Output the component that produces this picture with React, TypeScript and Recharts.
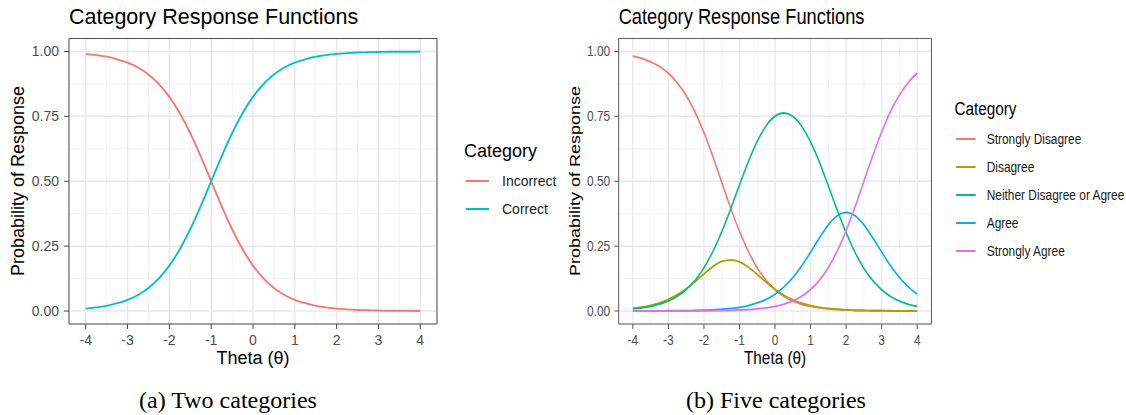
import React from 'react';
import { LineChart, Line, XAxis, YAxis, CartesianGrid, ReferenceArea } from 'recharts';

const FONT = '"Liberation Sans", Arial, Helvetica, sans-serif';

// theta grid shared by both panels
const thetas = [-4, -3.75, -3.5, -3.25, -3, -2.75, -2.5, -2.25, -2, -1.75, -1.5, -1.25, -1, -0.75, -0.5, -0.25,
    0, 0.25, 0.5, 0.75, 1, 1.25, 1.5, 1.75, 2, 2.25, 2.5, 2.75, 3, 3.25, 3.5, 3.75, 4];

// (a) two categories
const incorrect = [0.991, 0.986, 0.980, 0.970, 0.957, 0.938, 0.911, 0.874, 0.825, 0.762, 0.685, 0.596, 0.500, 0.404, 0.315, 0.238,
    0.175, 0.126, 0.089, 0.062, 0.043, 0.030, 0.020, 0.014, 0.009, 0.006, 0.004, 0.003, 0.002, 0.001, 0.001, 0.001, 0.000];
const correct = [0.009, 0.014, 0.020, 0.030, 0.043, 0.062, 0.089, 0.126, 0.175, 0.238, 0.315, 0.404, 0.500, 0.596, 0.685, 0.762,
    0.825, 0.874, 0.911, 0.938, 0.957, 0.970, 0.980, 0.986, 0.991, 0.994, 0.996, 0.997, 0.998, 0.999, 0.999, 0.999, 1.000];

// (b) five categories
const stronglyDisagree = [0.982, 0.973, 0.960, 0.942, 0.916, 0.879, 0.830, 0.766, 0.687, 0.595, 0.496, 0.397, 0.307, 0.229, 0.166, 0.118,
    0.082, 0.056, 0.039, 0.026, 0.018, 0.012, 0.008, 0.005, 0.004, 0.002, 0.002, 0.001, 0.001, 0.000, 0.000, 0.000, 0.000];
const disagree = [0.010, 0.015, 0.022, 0.031, 0.045, 0.063, 0.086, 0.113, 0.143, 0.171, 0.191, 0.197, 0.189, 0.169, 0.141, 0.111,
    0.084, 0.061, 0.043, 0.030, 0.021, 0.014, 0.010, 0.007, 0.004, 0.003, 0.002, 0.001, 0.001, 0.001, 0.000, 0.000, 0.000];
const neither = [0.008, 0.012, 0.018, 0.027, 0.039, 0.057, 0.083, 0.118, 0.167, 0.229, 0.305, 0.393, 0.486, 0.576, 0.654, 0.714,
    0.751, 0.763, 0.750, 0.712, 0.651, 0.573, 0.482, 0.389, 0.302, 0.226, 0.164, 0.117, 0.082, 0.056, 0.038, 0.026, 0.018];
const agree = [0.000, 0.000, 0.000, 0.000, 0.001, 0.001, 0.001, 0.002, 0.003, 0.004, 0.007, 0.010, 0.014, 0.021, 0.031, 0.045,
    0.065, 0.093, 0.129, 0.174, 0.227, 0.282, 0.332, 0.367, 0.380, 0.367, 0.332, 0.282, 0.227, 0.174, 0.129, 0.093, 0.065];
const stronglyAgree = [0.000, 0.000, 0.000, 0.000, 0.000, 0.000, 0.000, 0.001, 0.001, 0.001, 0.002, 0.002, 0.004, 0.005, 0.008, 0.012,
    0.018, 0.027, 0.039, 0.057, 0.083, 0.119, 0.168, 0.231, 0.310, 0.401, 0.500, 0.599, 0.690, 0.769, 0.832, 0.881, 0.917];

const xTicks = [-4, -3, -2, -1, 0, 1, 2, 3, 4];
const yTicks = [0, 0.25, 0.5, 0.75, 1];
const xMinor = [-3.5, -2.5, -1.5, -0.5, 0.5, 1.5, 2.5, 3.5];
const yMinor = [0.125, 0.375, 0.625, 0.875];

interface ISeries {
    key: string;
    name: string;
    color: string;
}

const twoSeries: ISeries[] = [
    { key: 'incorrect', name: 'Incorrect', color: '#F8766D' },
    { key: 'correct', name: 'Correct', color: '#00BFC4' },
];

const fiveSeries: ISeries[] = [
    { key: 'sd', name: 'Strongly Disagree', color: '#F8766D' },
    { key: 'd', name: 'Disagree', color: '#A3A500' },
    { key: 'n', name: 'Neither Disagree or Agree', color: '#00BF7D' },
    { key: 'a', name: 'Agree', color: '#00B0F6' },
    { key: 'sa', name: 'Strongly Agree', color: '#E76BF3' },
];

const twoData = thetas.map((t, i) => ({ theta: t, incorrect: incorrect[i], correct: correct[i] }));
const fiveData = thetas.map((t, i) => ({
    theta: t,
    sd: stronglyDisagree[i],
    d: disagree[i],
    n: neither[i],
    a: agree[i],
    sa: stronglyAgree[i],
}));

interface IProps {
    data: any[];
    series: ISeries[];
    width: number;
    legendTop: number;
}

const CrfChart = ({ data, series, width, legendTop }: IProps) => {
    const tickStyle = { fill: '#4D4D4D', fontSize: 14, fontFamily: FONT };
    return (
        <div style={{ position: 'relative', width, height: 415, fontFamily: FONT }}>
            <LineChart width={width} height={415} data={data}
                margin={{ top: 38.5, right: width - 437, bottom: 61, left: 19 }}>
                <CartesianGrid stroke="#EFEFEF" strokeWidth={0.8} verticalValues={xMinor} horizontalValues={yMinor} />
                <CartesianGrid stroke="#E8E8E8" strokeWidth={1.5} />
                <XAxis dataKey="theta" type="number" domain={[-4.4, 4.4]} ticks={xTicks} interval={0}
                    axisLine={false} tickLine={{ stroke: '#444' }} tickSize={5} tickMargin={6} height={30}
                    tick={tickStyle} />
                <YAxis type="number" domain={[-0.05, 1.05]} ticks={yTicks} interval={0}
                    tickFormatter={(v: number) => v.toFixed(2)}
                    axisLine={false} tickLine={{ stroke: '#444' }} tickSize={5} tickMargin={5} width={50}
                    tick={tickStyle} />
                {series.map(s => (
                    <Line key={s.key} type="monotone" dataKey={s.key} name={s.name} stroke={s.color}
                        strokeWidth={1.8} dot={false} isAnimationActive={false} />
                ))}
                <ReferenceArea x1={-4.4} x2={4.4} y1={-0.05} y2={1.05} fill="none" fillOpacity={0}
                    stroke="#555" strokeWidth={1} ifOverflow="visible" />
            </LineChart>
            <div style={{ position: 'absolute', left: 69, top: 18, transform: 'translateY(-50%)', lineHeight: 1,
                fontSize: 21.5, color: '#000', whiteSpace: 'nowrap' }}>
                Category Response Functions
            </div>
            <div style={{ position: 'absolute', left: 253, top: 358, transform: 'translate(-50%, -50%)', lineHeight: 1,
                fontSize: 18, color: '#000', whiteSpace: 'nowrap' }}>
                Theta (θ)
            </div>
            <div style={{ position: 'absolute', left: 18, top: 181, transform: 'translate(-50%, -50%) rotate(-90deg)',
                lineHeight: 1, fontSize: 18, color: '#000', whiteSpace: 'nowrap' }}>
                Probability of Response
            </div>
            <div style={{ position: 'absolute', left: 464, top: legendTop, transform: 'translateY(-50%)', lineHeight: 1,
                fontSize: 18, color: '#000', whiteSpace: 'nowrap' }}>
                Category
            </div>
            {series.map((s, i) => (
                <div key={s.key} style={{ position: 'absolute', left: 466, top: legendTop + 30 + 28 * i,
                    transform: 'translateY(-50%)', display: 'flex', alignItems: 'center', whiteSpace: 'nowrap' }}>
                    <div style={{ width: 23, height: 1.8, background: s.color }} />
                    <div style={{ marginLeft: 13, fontSize: 14, lineHeight: 1, color: '#1a1a1a' }}>{s.name}</div>
                </div>
            ))}
        </div>
    );
};

const captionStyle: React.CSSProperties = {
    position: 'absolute', top: 400, transform: 'translate(-50%, -50%)', lineHeight: 1,
    fontFamily: '"Liberation Serif", "Times New Roman", serif', fontSize: 24, color: '#000', whiteSpace: 'nowrap',
};

const App = () => (
    <div style={{ position: 'absolute', left: 0, top: 0, width: 1126, height: 415, background: '#fff', overflow: 'hidden' }}>
        <div style={{ position: 'absolute', left: 0, top: 0 }}>
            <CrfChart data={twoData} series={twoSeries} width={560} legendTop={151} />
        </div>
        <div style={{ position: 'absolute', left: 560, top: 0, transform: 'scaleX(0.85)', transformOrigin: '0 0' }}>
            <CrfChart data={fiveData} series={fiveSeries} width={665} legendTop={109} />
        </div>
        <div style={{ ...captionStyle, left: 228 }}>(a) Two categories</div>
        <div style={{ ...captionStyle, left: 776 }}>(b) Five categories</div>
    </div>
);

export default App;
